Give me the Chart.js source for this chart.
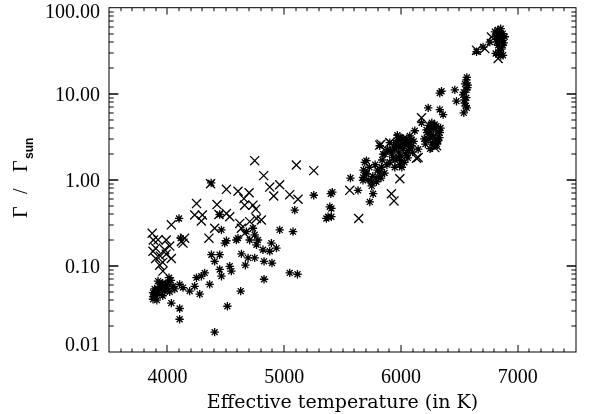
<!DOCTYPE html>
<html>
<head>
<meta charset="utf-8">
<script src="https://cdn.jsdelivr.net/npm/chart.js@4.4.1/dist/chart.umd.min.js"></script>
<style>
  html, body { margin: 0; padding: 0; background: #fff; }
</style>
</head>
<body>
<canvas id="myChart" width="589" height="414"></canvas>
<script>
// stars marked with an x
const crossTemp = [
  3870, 3920, 3877, 3900, 3977, 3990, 4034, 3934, 3962, 4034, 4120, 4148, 4134,
  4250, 4234, 4300, 4291, 4425, 4442, 4506, 4534, 4356, 4405, 4506, 4605, 4700,
  4656, 4662, 4733, 4757, 4805, 4620, 4634, 4662, 4705, 4763, 4825, 4748, 4877,
  4962, 4911, 5048, 5119, 5105, 5254, 4370, 5562, 5639, 5919, 5941, 5991, 6134,
  6291, 6177, 5905, 5819, 6148, 6305, 6648, 6719, 6833, 6776,
  3900, 3940, 3990, 4020, 3960, 3880, 5830, 5980
];
const crossGamma = [
  0.239, 0.201, 0.148, 0.122, 0.154, 0.137, 0.122, 0.102, 0.087, 0.30, 0.192, 0.21, 0.184,
  0.53, 0.39, 0.39, 0.333, 0.516, 0.396, 0.406, 0.373, 0.21, 0.274, 0.776, 0.736, 0.709,
  0.605, 0.508, 0.508, 0.457, 0.342, 0.312, 0.274, 0.239, 0.327, 0.356, 1.12, 1.67, 0.824,
  0.876, 0.65, 0.673, 0.595, 1.49, 1.28, 0.90, 0.755, 0.356, 0.69, 0.569, 1.03, 1.78,
  2.37, 5.26, 2.71, 2.53, 1.82, 2.49, 32.1, 33.5, 25.7, 45.6,
  0.16, 0.13, 0.2, 0.17, 0.11, 0.2, 2.6, 3.0
];

// stars marked with an asterisk
const starTemp = [
  3920, 3877, 3877, 3900, 3950, 3977, 4005, 4014, 4048, 4105, 4134, 4191, 4234, 4249,
  4291, 4320, 4277, 4362, 4034, 4105, 4105, 4405, 4514, 4377, 4448, 4405, 4448, 4463,
  4534, 4548, 4491, 4100, 4114, 4463, 4506, 4591, 4634, 4691, 4748, 4668, 4763, 4819,
  4877, 4934, 4891, 4828, 4896, 4828, 5048, 5114, 4628, 4733, 4748, 4776, 4705, 4605,
  4677, 4962, 5076, 5091, 5254, 5400, 5391, 5376, 4375, 4448, 3891, 3960, 3917, 4063,
  3890, 3905, 3930, 3940, 3960, 3985, 4000, 4020, 3880, 3950, 4030, 3910,
  5568, 5633, 5676, 5705, 5748, 5762, 5734, 5819, 5819, 5905, 5848, 5691, 5705, 5805,
  5834, 5862, 5948, 5991, 6019, 6076, 6062, 5977, 6005, 6048, 6091, 6148, 5934, 6034,
  5905, 5948, 6008, 5887, 5963, 6094, 6119, 6177, 6248, 6305, 6276, 6234, 6319, 6291,
  6225, 6333, 6265, 6234, 6333, 6362, 6333, 6462, 6476, 6348, 6562, 6562, 6533, 6547,
  6565, 6539, 6573, 5413, 5405, 5405, 5362, 5676,
  5920, 5960, 5980, 6000, 6020, 6040, 6060, 6080, 6000, 5950, 5990, 6030, 5940, 6100,
  6060, 5970, 6010, 5910, 6050, 6110,
  5700, 5730, 5760, 5780, 5800, 5840, 5860, 5750, 5790, 5720, 5680, 5880, 5830,
  6200, 6220, 6240, 6260, 6280, 6300, 6320, 6340, 6270, 6310, 6250, 6330, 6290, 6210,
  6550, 6560, 6545, 6570, 6555, 6540, 6565,
  6648, 6704, 6762, 6805, 6847, 6873, 6819, 6864, 6833, 6873, 6847, 6812, 6856, 6833,
  6890, 6842, 6830, 6850, 6870, 6860, 6840, 6880, 6820, 6855, 6830, 6875
];
const starGamma = [
  0.0667, 0.049, 0.041, 0.045, 0.056, 0.051, 0.064, 0.073, 0.058, 0.061, 0.056, 0.051, 0.058, 0.073,
  0.076, 0.083, 0.047, 0.061, 0.037, 0.032, 0.024, 0.017, 0.034, 0.135, 0.135, 0.113, 0.091, 0.076,
  0.099, 0.087, 0.184, 0.356, 0.21, 0.262, 0.196, 0.20, 0.138, 0.124, 0.124, 0.102, 0.176, 0.154,
  0.148, 0.161, 0.184, 0.113, 0.108, 0.07, 0.083, 0.08, 0.051, 0.274, 0.23, 0.20, 0.20, 0.21,
  0.25, 0.262, 0.25, 0.445, 0.662, 0.69, 0.486, 0.373, 0.92, 0.396, 0.054, 0.063, 0.049, 0.054,
  0.047, 0.052, 0.058, 0.05, 0.045, 0.06, 0.055, 0.05, 0.044, 0.062, 0.068, 0.04,
  1.05, 0.755, 1.07, 1.67, 0.94, 0.69, 0.554, 1.23, 2.49, 2.71, 1.99, 1.60, 1.17, 1.07,
  1.40, 1.99, 2.27, 2.49, 2.96, 3.24, 2.18, 1.82, 1.67, 1.91, 2.49, 2.27, 1.82, 2.59,
  1.60, 1.40, 1.40, 2.25, 2.86, 2.93, 3.72, 4.61, 3.85, 4.21, 3.24, 2.96, 2.84, 2.49,
  3.53, 3.53, 4.61, 6.85, 6.55, 5.73, 10.2, 11.1, 8.2, 10.7, 14.5, 11.1, 9.7, 7.8,
  6.85, 6.0, 12.6, 0.72, 0.465, 0.373, 0.356, 0.985,
  2.0, 2.6, 2.1, 1.9, 2.3, 2.0, 2.7, 2.4, 3.1, 1.7, 1.5, 1.6, 2.4, 2.1,
  1.8, 3.3, 2.6, 2.2, 3.0, 2.8,
  1.2, 1.4, 1.1, 1.5, 1.3, 1.7, 1.2, 0.85, 0.95, 1.0, 1.3, 1.5, 1.05,
  3.0, 3.8, 4.3, 3.3, 3.9, 3.0, 3.6, 4.0, 2.7, 2.6, 2.3, 3.1, 4.4, 2.6,
  13.0, 9.0, 8.5, 11.8, 7.2, 10.4, 15.5,
  30.8, 34.9, 39.9, 52.5, 53.9, 50, 46, 41.5, 36.6, 36.6, 32, 29.4, 27.8, 50,
  46, 42.7, 55, 48, 44, 33, 30, 39, 40, 57, 45, 28
];

const xTickValues = [4000, 5000, 6000, 7000];
const yTickValues = [0.01, 0.1, 1, 10, 100];
const yTickLabels = ['0.01', '0.10', '1.00', '10.00', '100.00'];

const SERIF = '"Liberation Serif", serif';

// IDL style box: inward ticks on all four sides, y labels kept inside the range
const frame = {
  id: 'frame',
  afterDraw(chart) {
    const { ctx, chartArea: a, scales: { x, y } } = chart;
    ctx.save();
    ctx.strokeStyle = '#000';
    ctx.lineWidth = 1;
    ctx.strokeRect(a.left, a.top, a.right - a.left, a.bottom - a.top);

    ctx.beginPath();
    for (let t = 3600; t < 7500; t += 100) {
      const px = Math.round(x.getPixelForValue(t));
      const len = t % 1000 === 0 ? 7 : 3.5;
      ctx.moveTo(px, a.bottom); ctx.lineTo(px, a.bottom - len);
      ctx.moveTo(px, a.top); ctx.lineTo(px, a.top + len);
    }
    for (let d = 0.01; d < 100; d *= 10) {
      for (let m = 1; m <= 10; m++) {
        const v = d * m;
        if (v <= 0.01 || v >= 100) continue;
        const py = Math.round(y.getPixelForValue(v));
        const len = m === 1 || m === 10 ? 9.3 : 4.7;
        ctx.moveTo(a.left, py); ctx.lineTo(a.left + len, py);
        ctx.moveTo(a.right, py); ctx.lineTo(a.right - len, py);
      }
    }
    ctx.stroke();

    ctx.fillStyle = '#000';
    ctx.font = '20px ' + SERIF;
    ctx.textAlign = 'right';
    ctx.textBaseline = 'middle';
    yTickValues.forEach((v, i) => {
      const py = y.getPixelForValue(v);
      const cy = Math.min(Math.max(py + 2, 13), 346);
      ctx.fillText(yTickLabels[i], a.left - 9, cy);
    });

    // y title: Γ / Γ_sun, rotated, spaced like the original
    ctx.translate(27, 218);
    ctx.rotate(-Math.PI / 2);
    ctx.textAlign = 'left';
    ctx.textBaseline = 'alphabetic';
    ctx.font = '20px ' + SERIF;
    ctx.fillText('\u0393', 0, 0);
    ctx.fillText('/', 24, 0);
    ctx.fillText('\u0393', 46, 0);
    ctx.font = 'bold 12px "Liberation Sans", sans-serif';
    ctx.fillText('sun', 59, 6);
    ctx.restore();
  }
};

const ctx = document.getElementById('myChart').getContext('2d');

new Chart(ctx, {
  type: 'scatter',
  data: {
    datasets: [
      {
        data: crossTemp.map((t, i) => ({ x: t, y: crossGamma[i] })),
        pointStyle: 'crossRot',
        pointRadius: 6.4,
        borderColor: '#000',
        borderWidth: 1.3,
      },
      {
        data: starTemp.map((t, i) => ({ x: t, y: starGamma[i] })),
        pointStyle: 'star',
        pointRadius: 4.2,
        borderColor: '#000',
        borderWidth: 1.3,
      },
    ],
  },
  options: {
    responsive: false,
    animation: false,
    events: [],
    layout: { padding: { top: 4, right: 13, left: 0, bottom: 0 } },
    plugins: { legend: { display: false }, tooltip: { enabled: false } },
    scales: {
      x: {
        type: 'linear',
        min: 3500,
        max: 7500,
        grid: { display: false, drawTicks: false },
        border: { display: false },
        afterBuildTicks: (s) => { s.ticks = xTickValues.map((v) => ({ value: v })); },
        afterFit: (s) => { s.height = 62; s.paddingLeft = 0; s.paddingRight = 0; },
        ticks: {
          color: '#000',
          font: { family: SERIF, size: 20 },
          padding: 14,
          maxRotation: 0,
          autoSkip: false,
          callback: (v) => String(v),
        },
        title: {
          display: true,
          text: 'Effective temperature (in K)',
          color: '#000',
          font: { family: '"DejaVu Serif", serif', size: 19 },
          padding: 0,
        },
      },
      y: {
        type: 'logarithmic',
        min: 0.01,
        max: 100,
        grid: { display: false, drawTicks: false },
        border: { display: false },
        ticks: { display: false },
        afterFit: (s) => { s.width = 109; s.paddingTop = 0; s.paddingBottom = 0; },
      },
    },
  },
  plugins: [frame],
});
</script>
</body>
</html>
